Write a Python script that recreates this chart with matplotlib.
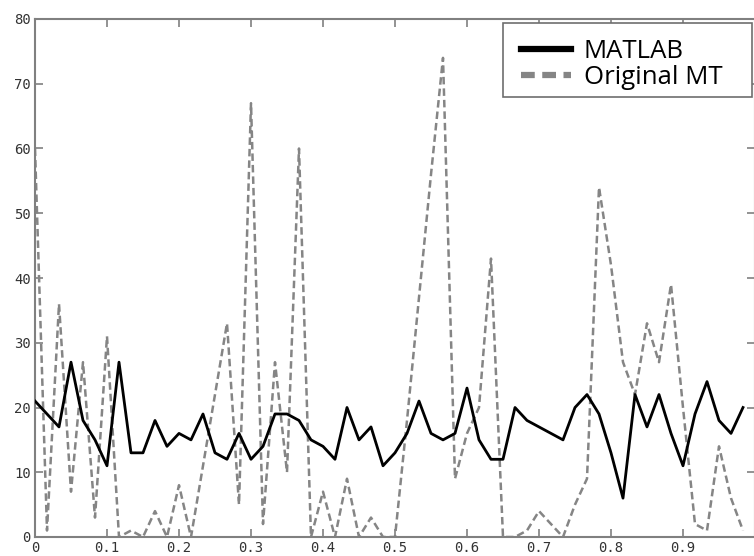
import matplotlib
matplotlib.use("Agg")
import matplotlib.pyplot as plt
from matplotlib.patches import Rectangle
import numpy as np

# 60 samples, step 1/60
x = np.arange(60) / 60.0

matlab = [21, 19, 17, 27, 18, 15, 11, 27, 13, 13,
          18, 14, 16, 15, 19, 13, 12, 16, 12, 14,
          19, 19, 18, 15, 14, 12, 20, 15, 17, 11,
          13, 16, 21, 16, 15, 16, 23, 15, 12, 12,
          20, 18, 17, 16, 15, 20, 22, 19, 13, 6,
          22, 17, 22, 16, 11, 19, 24, 18, 16, 20]

original_mt = [60, 1, 36, 7, 27, 3, 31, 0, 1, 0,
               4, 0, 8, 0, 11, 22, 33, 5, 67, 2,
               27, 10, 60, 0, 7, 0, 9, 0, 3, 0,
               0, 18, 37, 56, 74, 9, 16, 20, 43, 0,
               0, 1, 4, 2, 0, 5, 9, 54, 42, 27,
               22, 33, 27, 39, 20, 2, 1, 14, 6, 1]

legend_labels = ["MATLAB", "Original MT"]
xticks = np.arange(0, 1.0, 0.1)
yticks = np.arange(0, 81, 10)

fig = plt.figure(figsize=(7.54, 5.56), dpi=100)
ax = fig.add_axes([35 / 754, 19 / 556, 720 / 754, 518 / 556])

ax.plot(x, matlab, color="black", linewidth=2.0, label=legend_labels[0], zorder=3)
ax.plot(x, original_mt, color="#858585", linewidth=1.8, linestyle=(0, (3, 1.6)),
        label=legend_labels[1], zorder=2)

ax.set_xlim(0, 1)
ax.set_ylim(0, 80)
ax.set_xticks(xticks)
ax.set_xticklabels(["0"] + ["%.1f" % t for t in xticks[1:]])
ax.set_yticks(yticks)

for s in ax.spines.values():
    s.set_color("#808080")
    s.set_linewidth(1.5)

ax.tick_params(direction="in", length=6, width=1.2, color="#808080",
               top=True, right=True, labelsize=10, labelcolor="#333333", pad=3)
for lab in ax.get_xticklabels() + ax.get_yticklabels():
    lab.set_family("DejaVu Sans Mono")

# legend box drawn by hand so it can be wider than the entries
box = Rectangle((503 / 754, (556 - 97) / 556), 249 / 754, 74 / 556,
                transform=fig.transFigure, facecolor="white", edgecolor="#6e6e6e",
                linewidth=1.2, clip_on=False, zorder=4.5)
ax.add_patch(box)

leg = ax.legend(loc="upper left", bbox_to_anchor=(521 / 754, (556 - 39) / 556),
                bbox_transform=fig.transFigure, frameon=False,
                prop={"family": "Open Sans", "size": 18.5},
                handlelength=1.95, handletextpad=0.5, borderpad=0,
                labelspacing=0.05, borderaxespad=0)
leg.set_zorder(5)
for ln in leg.get_lines():
    ln.set_linewidth(4.5)
leg.get_lines()[1].set_dashes([2.2, 1.2])

fig.savefig("out.png", dpi=100)
